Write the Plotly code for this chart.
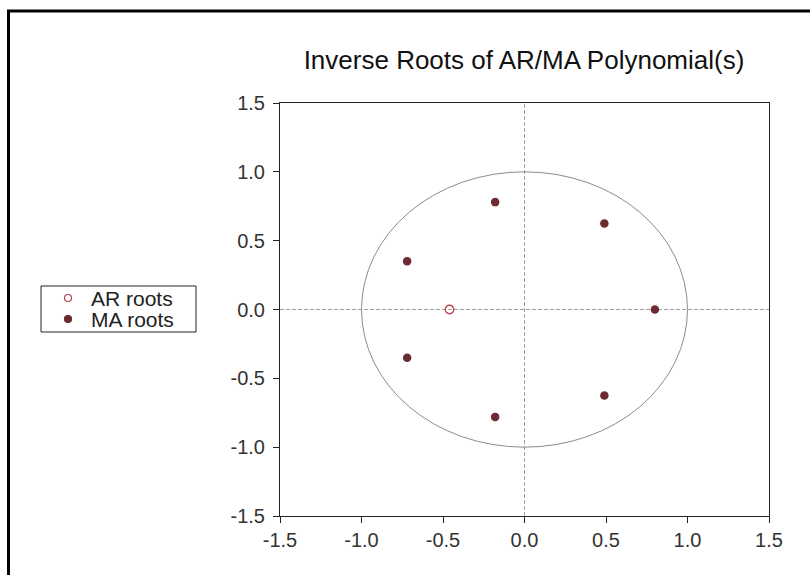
import plotly.graph_objects as go

# Inverse roots of the estimated ARMA polynomials
ar_re = [-0.46]
ar_im = [0.0]

ma_re = [0.80, 0.49, 0.49, -0.18, -0.18, -0.72, -0.72]
ma_im = [0.00, 0.625, -0.625, 0.78, -0.78, 0.35, -0.35]

tick_vals = [-1.5, -1.0, -0.5, 0.0, 0.5, 1.0, 1.5]
tick_text = ["-1.5", "-1.0", "-0.5", "0.0", "0.5", "1.0", "1.5"]

legend_names = ["AR roots", "MA roots"]

FONT = "Liberation Sans, Arial, sans-serif"
MA_COLOR = "#6c2a31"
AR_COLOR = "#b3424e"

fig = go.Figure()

fig.add_trace(go.Scatter(
    x=ar_re, y=ar_im, mode="markers", name=legend_names[0], showlegend=False,
    marker=dict(symbol="circle-open", size=8.5, color=AR_COLOR,
                line=dict(width=1.3, color=AR_COLOR)),
))
fig.add_trace(go.Scatter(
    x=ma_re, y=ma_im, mode="markers", name=legend_names[1], showlegend=False,
    marker=dict(symbol="circle", size=8.5, color=MA_COLOR),
))

# unit circle and zero reference lines
fig.add_shape(type="circle", xref="x", yref="y", x0=-1, y0=-1, x1=1, y1=1,
              line=dict(color="#8c8c8c", width=1), layer="below")
fig.add_shape(type="line", xref="paper", yref="y", x0=0, x1=1, y0=0, y1=0,
              line=dict(color="#a0a0a0", width=1, dash="4px,2px"), layer="below")
fig.add_shape(type="line", xref="x", yref="paper", x0=0, x1=0, y0=0, y1=1,
              line=dict(color="#a0a0a0", width=1, dash="4px,2px"), layer="below")

# pixel helpers (plot area in page pixels)
L, R, T, B = 280, 769, 103, 516
W, H = R - L, B - T
def px(x):
    return (x - L) / W
def py(y):
    return (B - y) / H

# outer frame around the graphic
fig.add_shape(type="rect", xref="paper", yref="paper",
              x0=px(8.5), x1=px(830), y0=py(11), y1=py(600),
              line=dict(color="black", width=3), fillcolor="rgba(0,0,0,0)")

# legend box drawn at the left of the plot
fig.add_shape(type="rect", xref="paper", yref="paper",
              x0=px(41), x1=px(196), y0=py(286), y1=py(332),
              line=dict(color="#222", width=1), fillcolor="white")
legend_rows = [298, 319]
legend_styles = [dict(fill="white", line=AR_COLOR), dict(fill=MA_COLOR, line=MA_COLOR)]
for name, row, st in zip(legend_names, legend_rows, legend_styles):
    fig.add_shape(type="circle", xref="paper", yref="paper",
                  xsizemode="pixel", ysizemode="pixel",
                  xanchor=px(68), yanchor=py(row),
                  x0=-3.5, x1=3.5, y0=-3.5, y1=3.5,
                  fillcolor=st["fill"], line=dict(color=st["line"], width=1.2))
    fig.add_annotation(xref="paper", yref="paper", x=px(89), y=py(row),
                       xanchor="left", yanchor="middle", showarrow=False,
                       text=name, font=dict(family=FONT, size=21, color="#222"))

axis_common = dict(
    range=[-1.5, 1.5], tickmode="array", tickvals=tick_vals, ticktext=tick_text,
    showgrid=False, zeroline=False, showline=True, linecolor="#222", linewidth=1,
    mirror=True, ticks="outside", ticklen=6, tickcolor="#222",
    tickfont=dict(family=FONT, size=20, color="#333"),
)

fig.update_layout(
    width=810, height=575,
    margin=dict(l=L, r=810 - R, t=T, b=575 - B),
    paper_bgcolor="white", plot_bgcolor="white",
    title=dict(text="Inverse Roots of AR/MA Polynomial(s)", xref="container",
               yref="container", x=524 / 810, xanchor="center",
               y=1 - 60 / 575, yanchor="middle",
               font=dict(family=FONT, size=26, color="#111")),
    xaxis=dict(axis_common, ticklabelstandoff=0),
    yaxis=dict(axis_common, ticklabelstandoff=4),
    showlegend=False,
)

fig.write_html("out.html")
